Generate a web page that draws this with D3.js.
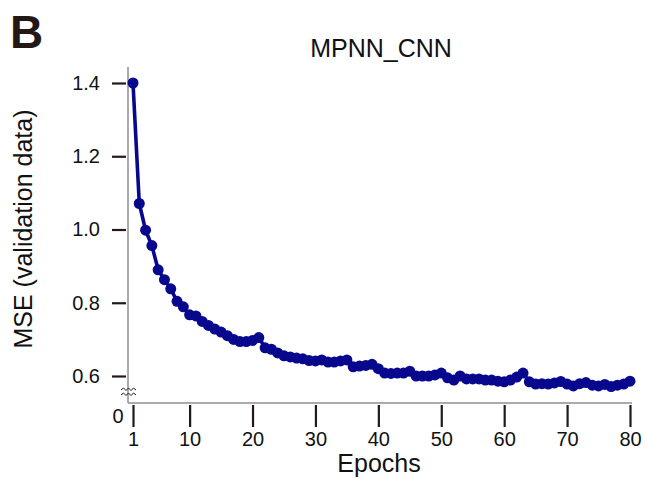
<!DOCTYPE html>
<html><head><meta charset="utf-8">
<script src="https://cdn.jsdelivr.net/npm/d3@7"></script>
<style>body{margin:0;background:#fff}svg{display:block}text{font-family:"Liberation Sans",Arial,Helvetica,sans-serif}</style>
</head><body>
<script>
const panelLabel = "B";
const title = "MPNN_CNN";
const xLabel = "Epochs";
const yLabel = "MSE (validation data)";
const epochs = d3.range(1, 81);
const mse = [1.400,1.071,0.998,0.956,0.890,0.863,0.838,0.804,0.789,0.767,
  0.764,0.749,0.738,0.728,0.720,0.710,0.700,0.694,0.694,0.697,
  0.705,0.677,0.673,0.663,0.655,0.652,0.649,0.647,0.642,0.641,
  0.644,0.638,0.638,0.641,0.644,0.625,0.627,0.629,0.632,0.620,
  0.608,0.607,0.608,0.608,0.613,0.600,0.600,0.600,0.603,0.608,
  0.595,0.589,0.600,0.592,0.592,0.592,0.589,0.589,0.586,0.584,
  0.589,0.597,0.608,0.584,0.578,0.579,0.578,0.581,0.585,0.578,
  0.573,0.579,0.582,0.575,0.573,0.577,0.571,0.575,0.578,0.586];
const xTicks = [1,10,20,30,40,50,60,70,80];
const yTicks = [0.6,0.8,1.0,1.2,1.4];

const W=646,H=479;
const svg=d3.select("body").append("svg").attr("width",W).attr("height",H);
const x=d3.scaleLinear().domain([1,80]).range([133,630]);
const y=d3.scaleLinear().domain([0.6,1.4]).range([376,83]);
const ink="#231815";

// panel label & title
svg.append("text").attr("x",10).attr("y",48).attr("font-size",46).attr("font-weight","bold").attr("fill",ink).text(panelLabel);
svg.append("text").attr("x",381).attr("y",57).attr("text-anchor","middle").attr("font-size",25).attr("fill","#111").text(title);

// axis lines (gray)
svg.append("line").attr("x1",128).attr("x2",128).attr("y1",67).attr("y2",403).attr("stroke","#8f8f8f").attr("stroke-width",1.5);
svg.append("line").attr("x1",128).attr("x2",632).attr("y1",403).attr("y2",403).attr("stroke","#8f8f8f").attr("stroke-width",1.5);

// y axis ticks
const ya=svg.append("g").attr("transform","translate(126,0)")
  .call(d3.axisLeft(y).tickValues(yTicks).tickFormat(d3.format(".1f")).tickSize(14).tickPadding(12));
ya.select(".domain").remove();
ya.selectAll(".tick line").attr("stroke",ink).attr("stroke-width",2.2);
ya.selectAll(".tick text").attr("font-size",20).attr("fill","#111").attr("font-family","Liberation Sans, Arial, sans-serif");

// x axis ticks
const xa=svg.append("g").attr("transform","translate(0,405)")
  .call(d3.axisBottom(x).tickValues(xTicks).tickFormat(d3.format("d")).tickSize(22).tickPadding(5));
xa.select(".domain").remove();
xa.selectAll(".tick line").attr("stroke",ink).attr("stroke-width",2.2);
xa.selectAll(".tick text").attr("font-size",20).attr("fill","#111").attr("font-family","Liberation Sans, Arial, sans-serif");

// zero label and axis break
svg.append("text").attr("x",118).attr("y",423).attr("text-anchor","middle").attr("font-size",20).attr("fill","#111").text("0");
const brk=svg.append("g").attr("fill","none").attr("stroke",ink).attr("stroke-width",1);
[389,394].forEach(yy=>{
  brk.append("path").attr("d",`M121,${yy+1} l2.5,-2 l2.5,2.5 l2.5,-2.5 l2.5,2.5 l2.5,-2.5 l2.5,2`);
});

// axis titles
svg.append("text").attr("x",379).attr("y",472).attr("text-anchor","middle").attr("font-size",25).attr("fill","#111").text(xLabel);
svg.append("text").attr("transform","translate(32,229) rotate(-90)").attr("text-anchor","middle").attr("font-size",25).attr("fill","#111").text(yLabel);

// series
const data=epochs.map((e,i)=>({e,v:mse[i]}));
const col="#08088e";
svg.append("path").datum(data).attr("fill","none").attr("stroke",col).attr("stroke-width",3.6)
  .attr("stroke-linejoin","round").attr("d",d3.line().x(d=>x(d.e)).y(d=>y(d.v)));
svg.append("g").selectAll("circle").data(data).join("circle")
  .attr("cx",d=>x(d.e)).attr("cy",d=>y(d.v)).attr("r",5.5).attr("fill",col);
</script>
</body></html>
